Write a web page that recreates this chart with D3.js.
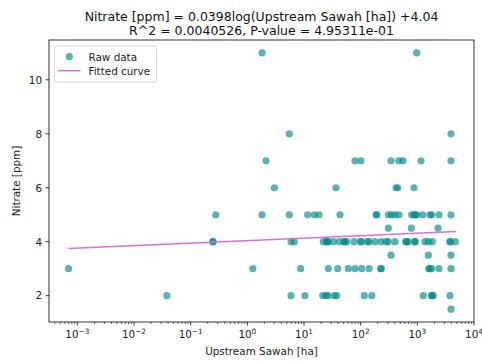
<!DOCTYPE html>
<html>
<head>
<meta charset="utf-8">
<script src="https://d3js.org/d3.v7.min.js"></script>
<style>
  body { margin: 0; background: #fff; }
  svg { font-family: "DejaVu Sans", sans-serif; }
</style>
</head>
<body>
<svg id="chart"></svg>
<script>
// nitrate levels (ppm) and the upstream sawah areas (ha) measured at each level
var nitrateLevels = [11, 8, 7, 6, 5, 4.5, 4, 3.5, 3, 2, 1.5];
var sawah11 = [1.82, 975];
var sawah8 = [5.5, 3930];
var sawah7 = [2.14, 79.5, 101, 343, 470, 559, 1162, 3930];
var sawah6 = [3.0, 36.7, 421, 451, 874];
var sawah5 = [0.277, 1.82, 5.5, 11.6, 15.2, 18.4, 43.2, 188, 193, 308, 350, 404, 475, 795, 874, 911, 975, 1245, 1675, 1795, 2415, 3930];
var sawah45 = [308, 785, 2317];
var sawah4 = [0.245, 0.25, 5.9, 6.75, 21.9, 25, 25.5, 26.9, 32.9, 42, 51, 52, 56.8, 76.4, 100, 102, 131, 141, 179, 229, 280, 308, 404, 625, 640, 693, 900, 920, 1367, 1563, 1840, 3776, 3800, 4680];
var sawah35 = [343, 1563, 3930];
var sawah3 = [0.0007, 1.25, 8.75, 26.9, 39.4, 60.6, 79.5, 104, 141, 225, 232, 1600, 1650, 1795, 2415, 3930];
var sawah2 = [0.038, 5.9, 10.4, 21.4, 24.5, 26.5, 34.3, 37.8, 116, 157, 1276, 1780, 1810, 1914, 3776];
var sawah15 = [3930];
var sawahByLevel = [sawah11, sawah8, sawah7, sawah6, sawah5, sawah45, sawah4, sawah35, sawah3, sawah2, sawah15];

// fitted curve end points
var fitX = [0.0007, 4800];
var fitY = [3.75, 4.38];

var xTicks = [-3, -2, -1, 0, 1, 2, 3, 4];
var yTicks = [2, 4, 6, 8, 10];

var width = 482, height = 361;
var margin = {left: 49, right: 8, top: 40, bottom: 39};

var svg = d3.select("#chart").attr("width", width).attr("height", height);

var x = d3.scaleLog()
    .domain([Math.pow(10, -3.5), 1e4])
    .range([margin.left, width - margin.right]);
var y = d3.scaleLinear()
    .domain([1.025, 11.475])
    .range([height - margin.bottom, margin.top]);

var points = [];
nitrateLevels.forEach(function(level, i) {
  sawahByLevel[i].forEach(function(s) { points.push({x: s, y: level}); });
});

var plotBottom = height - margin.bottom;

// scatter points
svg.append("g").selectAll("circle")
    .data(points)
    .enter().append("circle")
    .attr("cx", function(d) { return x(d.x); })
    .attr("cy", function(d) { return y(d.y); })
    .attr("r", 3.6)
    .attr("fill", "#008b8b")
    .attr("fill-opacity", 0.65);

// fitted curve
var line = d3.line()
    .x(function(d) { return x(d[0]); })
    .y(function(d) { return y(d[1]); });
svg.append("path")
    .datum(d3.zip(fitX, fitY))
    .attr("d", line)
    .attr("fill", "none")
    .attr("stroke", "orchid")
    .attr("stroke-width", 1.5);

// frame
svg.append("rect")
    .attr("x", margin.left).attr("y", margin.top)
    .attr("width", width - margin.left - margin.right)
    .attr("height", plotBottom - margin.top)
    .attr("fill", "none").attr("stroke", "#000").attr("stroke-width", 0.8);

// x axis: major and minor ticks
var minor = [];
for (var e = -4; e < 4; e++) {
  for (var m = 2; m < 10; m++) {
    var v = m * Math.pow(10, e);
    if (v > x.domain()[0] && v < x.domain()[1]) minor.push(v);
  }
}
var xg = svg.append("g");
xg.selectAll("line.minor").data(minor).enter().append("line")
    .attr("x1", function(d) { return x(d); }).attr("x2", function(d) { return x(d); })
    .attr("y1", plotBottom).attr("y2", plotBottom + 2)
    .attr("stroke", "#000").attr("stroke-width", 0.6);
xg.selectAll("line.major").data(xTicks).enter().append("line")
    .attr("x1", function(d) { return x(Math.pow(10, d)); }).attr("x2", function(d) { return x(Math.pow(10, d)); })
    .attr("y1", plotBottom).attr("y2", plotBottom + 3.5)
    .attr("stroke", "#000").attr("stroke-width", 0.8);
var xl = xg.selectAll("text").data(xTicks).enter().append("text")
    .attr("x", function(d) { return x(Math.pow(10, d)); })
    .attr("y", plotBottom + 16)
    .attr("text-anchor", "middle")
    .attr("font-size", "10.4px")
    .attr("fill", "#222");
xl.append("tspan").text("10");
xl.append("tspan").attr("dy", -4.5).attr("font-size", "7.3px")
    .text(function(d) { return d < 0 ? "\u2212" + (-d) : d; });

// y axis
var yg = svg.append("g");
yg.selectAll("line").data(yTicks).enter().append("line")
    .attr("x1", margin.left - 3.5).attr("x2", margin.left)
    .attr("y1", function(d) { return y(d); }).attr("y2", function(d) { return y(d); })
    .attr("stroke", "#000").attr("stroke-width", 0.8);
yg.selectAll("text").data(yTicks).enter().append("text")
    .attr("x", margin.left - 7)
    .attr("y", function(d) { return y(d) + 3.8; })
    .attr("text-anchor", "end")
    .attr("font-size", "10.4px")
    .attr("fill", "#222")
    .text(function(d) { return d; });

// axis labels
var cx = (margin.left + width - margin.right) / 2;
svg.append("text")
    .attr("x", cx).attr("y", 355)
    .attr("text-anchor", "middle").attr("font-size", "10.4px").attr("fill", "#222")
    .text("Upstream Sawah [ha]");
svg.append("text")
    .attr("transform", "translate(20," + ((margin.top + plotBottom) / 2) + ") rotate(-90)")
    .attr("text-anchor", "middle").attr("font-size", "10.4px").attr("fill", "#222")
    .text("Nitrate [ppm]");

// title
svg.append("text")
    .attr("x", cx).attr("y", 21)
    .attr("text-anchor", "middle").attr("font-size", "12.5px").attr("fill", "#111")
    .text("Nitrate [ppm] = 0.0398log(Upstream Sawah [ha]) +4.04");
svg.append("text")
    .attr("x", cx).attr("y", 34.5)
    .attr("text-anchor", "middle").attr("font-size", "12.5px").attr("fill", "#111")
    .text("R^2 = 0.0040526, P-value = 4.95311e-01");

// legend
var lg = svg.append("g");
lg.append("rect")
    .attr("x", 54.5).attr("y", 46).attr("width", 102).attr("height", 36)
    .attr("rx", 2.5)
    .attr("fill", "#fff").attr("fill-opacity", 0.8)
    .attr("stroke", "#ccc").attr("stroke-width", 0.8);
lg.append("circle")
    .attr("cx", 69.3).attr("cy", 56.7).attr("r", 3.6)
    .attr("fill", "#008b8b").attr("fill-opacity", 0.65);
lg.append("text")
    .attr("x", 88.5).attr("y", 60.5)
    .attr("font-size", "10.4px").attr("fill", "#222")
    .text("Raw data");
lg.append("line")
    .attr("x1", 58).attr("x2", 80.5).attr("y1", 70.7).attr("y2", 70.7)
    .attr("stroke", "orchid").attr("stroke-width", 1.5);
lg.append("text")
    .attr("x", 88.5).attr("y", 74.5)
    .attr("font-size", "10.4px").attr("fill", "#222")
    .text("Fitted curve");
</script>
</body>
</html>
